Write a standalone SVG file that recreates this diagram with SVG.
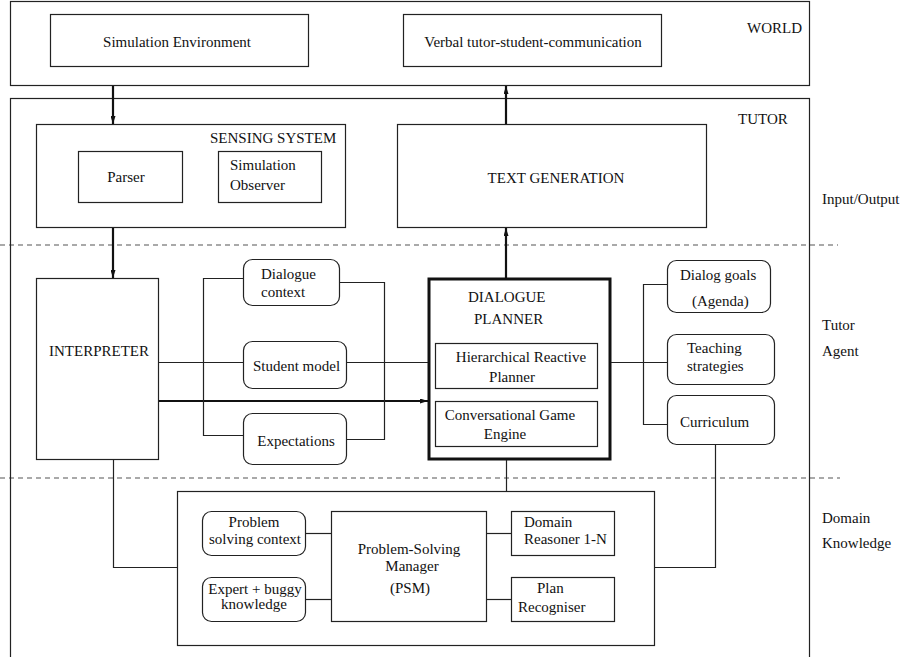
<svg xmlns="http://www.w3.org/2000/svg" width="902" height="657" viewBox="0 0 902 657">
<style>
text{font-family:"Liberation Serif","Times New Roman",serif;font-size:15px;fill:#111}
.b{fill:none;stroke:#222;stroke-width:1.2}
.r{fill:none;stroke:#222;stroke-width:1.2}
.c{fill:none;stroke:#222;stroke-width:1.2}
.t{fill:none;stroke:#111;stroke-width:2.2}
.d{fill:none;stroke:#555;stroke-width:1.2;stroke-dasharray:5 4}
.m{text-anchor:middle}
</style>
<defs>
<marker id="ah" viewBox="0 0 8 5" refX="8" refY="2.5" markerWidth="8" markerHeight="5" orient="auto" markerUnits="userSpaceOnUse">
<path d="M0,0 L8,2.5 L0,5 z" fill="#111"/>
</marker>
</defs>
<rect width="902" height="657" fill="#fff"/>

<g id="dividers">
<line class="d" x1="0" y1="245" x2="838" y2="245"/>
<line class="d" x1="0" y1="478" x2="840" y2="478"/>
</g>

<g id="world">
<rect class="b" x="10.5" y="1.5" width="799" height="84"/>
<text x="747" y="33">WORLD</text>
</g>
<g id="sim-env">
<rect class="b" x="50.5" y="14.5" width="258" height="52"/>
<text class="m" x="177" y="47">Simulation Environment</text>
</g>
<g id="verbal">
<rect class="b" x="403.5" y="14.5" width="258" height="52"/>
<text class="m" x="533" y="47">Verbal tutor-student-communication</text>
</g>

<g id="tutor">
<rect class="b" x="10.5" y="98.5" width="799" height="570"/>
<text x="738" y="124">TUTOR</text>
</g>

<g id="sensing">
<rect class="b" x="36.5" y="124.5" width="309" height="103"/>
<text x="210" y="143">SENSING SYSTEM</text>
</g>
<g id="parser">
<rect class="b" x="78.5" y="151.5" width="104" height="51"/>
<text class="m" x="126" y="182">Parser</text>
</g>
<g id="sim-observer">
<rect class="b" x="218.5" y="151.5" width="103" height="51"/>
<text x="230" y="170">Simulation</text>
<text x="230" y="190">Observer</text>
</g>
<g id="text-gen">
<rect class="b" x="397.5" y="124.5" width="309" height="103"/>
<text class="m" x="556" y="183">TEXT GENERATION</text>
</g>

<g id="labels">
<text x="822" y="204">Input/Output</text>
<text x="822" y="330">Tutor</text>
<text x="822" y="356">Agent</text>
<text x="822" y="523">Domain</text>
<text x="822" y="548">Knowledge</text>
</g>

<g id="interpreter">
<rect class="b" x="36.5" y="278.5" width="122" height="181"/>
<text x="49" y="356">INTERPRETER</text>
</g>
<g id="dialogue-context">
<rect class="r" x="243.5" y="259.5" width="96" height="46" rx="9"/>
<text x="261" y="279">Dialogue</text>
<text x="261" y="297">context</text>
</g>
<g id="student-model">
<rect class="r" x="243.5" y="341.5" width="103" height="47" rx="9"/>
<text x="253" y="371">Student model</text>
</g>
<g id="expectations">
<rect class="r" x="243.5" y="413.5" width="103" height="51" rx="9"/>
<text class="m" x="296" y="446">Expectations</text>
</g>

<g id="dialogue-planner">
<rect x="429" y="279" width="181" height="180" fill="none" stroke="#111" stroke-width="3"/>
<text x="468" y="302">DIALOGUE</text>
<text x="474" y="324">PLANNER</text>
</g>
<g id="hrp">
<rect class="b" x="435.5" y="343.5" width="162" height="45"/>
<text class="m" x="521" y="362">Hierarchical Reactive</text>
<text class="m" x="512" y="382">Planner</text>
</g>
<g id="cge">
<rect class="b" x="435.5" y="401.5" width="162" height="45"/>
<text class="m" x="510" y="420">Conversational Game</text>
<text class="m" x="505" y="439">Engine</text>
</g>

<g id="dialog-goals">
<rect class="r" x="667.5" y="260.5" width="103" height="52" rx="9"/>
<text x="680" y="280">Dialog goals</text>
<text x="692" y="306">(Agenda)</text>
</g>
<g id="teaching">
<rect class="r" x="667.5" y="334.5" width="107" height="50" rx="9"/>
<text x="687" y="353">Teaching</text>
<text x="687" y="371">strategies</text>
</g>
<g id="curriculum">
<rect class="r" x="667.5" y="395.5" width="107" height="49" rx="9"/>
<text x="680" y="427">Curriculum</text>
</g>

<g id="domain">
<rect class="b" x="177.5" y="491.5" width="477" height="154"/>
</g>
<g id="ps-context">
<rect class="r" x="202.5" y="511.5" width="103" height="44" rx="9"/>
<text class="m" x="254" y="527">Problem</text>
<text class="m" x="255" y="544">solving context</text>
</g>
<g id="expert">
<rect class="r" x="202.5" y="577.5" width="103" height="44" rx="9"/>
<text class="m" x="255" y="594">Expert + buggy</text>
<text class="m" x="254" y="609">knowledge</text>
</g>
<g id="psm">
<rect class="b" x="331.5" y="511.5" width="155" height="110"/>
<text class="m" x="409" y="554">Problem-Solving</text>
<text class="m" x="412" y="571">Manager</text>
<text class="m" x="410" y="593">(PSM)</text>
</g>
<g id="domain-reasoner">
<rect class="b" x="511.5" y="511.5" width="103" height="44"/>
<text x="524" y="527">Domain</text>
<text x="524" y="544">Reasoner 1-N</text>
</g>
<g id="plan-recogniser">
<rect class="b" x="511.5" y="577.5" width="103" height="44"/>
<text x="537" y="593">Plan</text>
<text x="518" y="612">Recogniser</text>
</g>

<g id="connectors">
<line class="t" x1="113" y1="86" x2="113" y2="124" marker-end="url(#ah)"/>
<line class="t" x1="506" y1="124" x2="506" y2="86" marker-end="url(#ah)"/>
<line class="t" x1="113" y1="228" x2="113" y2="278" marker-end="url(#ah)"/>
<line class="t" x1="506" y1="278" x2="506" y2="228" marker-end="url(#ah)"/>
<line class="t" x1="159" y1="401" x2="428" y2="401" marker-end="url(#ah)"/>
<polyline class="c" points="243,278.5 203.5,278.5 203.5,435.5 243,435.5"/>
<polyline class="c" points="339,282.5 384.5,282.5 384.5,439.5 347,439.5"/>
<line class="c" x1="159" y1="362.5" x2="243" y2="362.5"/>
<line class="c" x1="347" y1="362.5" x2="428" y2="362.5"/>
<line class="c" x1="611" y1="362.5" x2="667" y2="362.5"/>
<polyline class="c" points="667,284.5 643.5,284.5 643.5,424.5 667,424.5"/>
<polyline class="c" points="715.5,445 715.5,567.5 655,567.5"/>
<polyline class="c" points="113.5,460 113.5,567.5 177,567.5"/>
<line class="c" x1="506.5" y1="460" x2="506.5" y2="491"/>
<line class="c" x1="306" y1="533.5" x2="331" y2="533.5"/>
<line class="c" x1="306" y1="599.5" x2="331" y2="599.5"/>
<line class="c" x1="487" y1="533.5" x2="511" y2="533.5"/>
<line class="c" x1="487" y1="599.5" x2="511" y2="599.5"/>
</g>
</svg>
